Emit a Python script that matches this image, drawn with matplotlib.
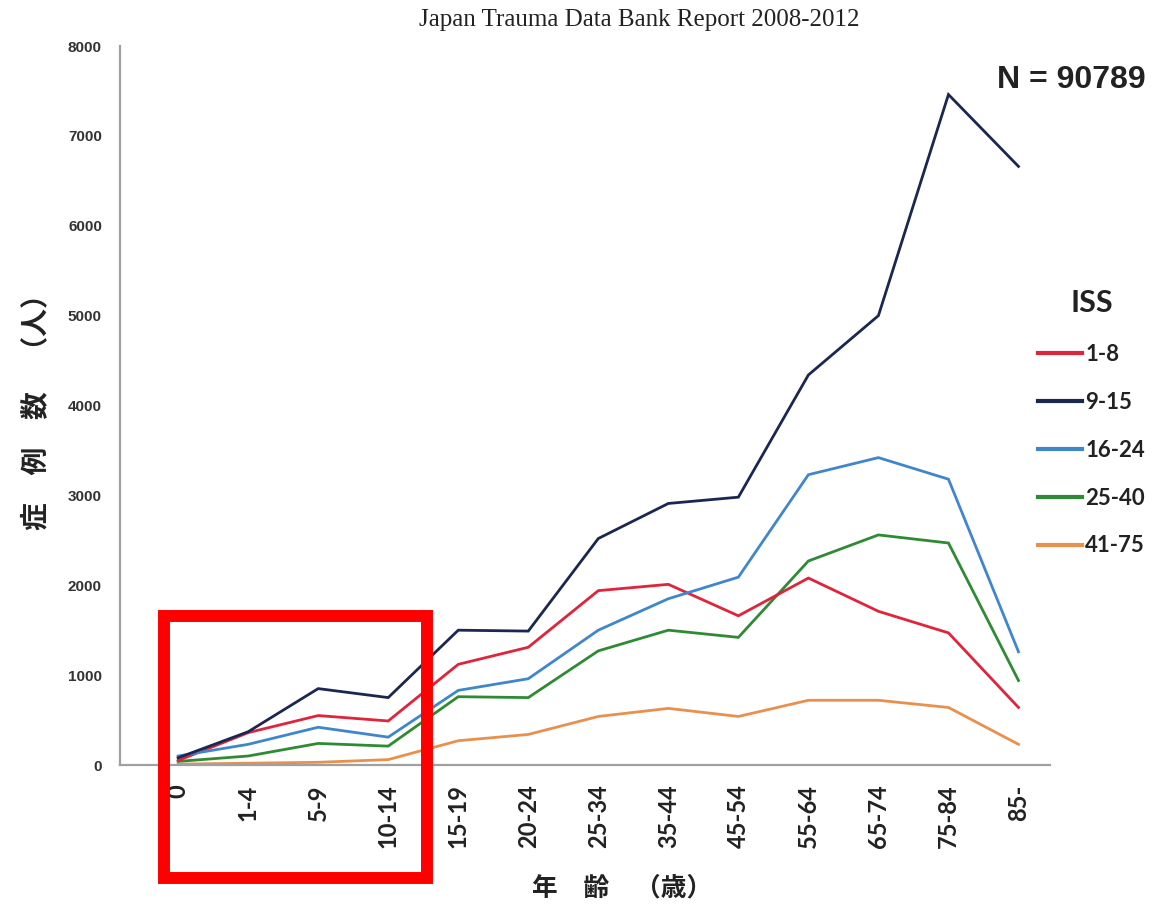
import matplotlib
matplotlib.use("Agg")
import matplotlib.pyplot as plt
from matplotlib.patches import Rectangle

plt.rcParams['font.family'] = ['Lato', 'Noto Sans CJK JP', 'DejaVu Sans']

ages = ["0", "1-4", "5-9", "10-14", "15-19", "20-24", "25-34", "35-44",
        "45-54", "55-64", "65-74", "75-84", "85-"]
iss_1_8 = [50, 360, 550, 490, 1120, 1310, 1940, 2010, 1660, 2080, 1710, 1470, 640]
iss_9_15 = [80, 370, 850, 750, 1500, 1490, 2520, 2910, 2980, 4340, 5000, 7460, 6660]
iss_16_24 = [100, 230, 420, 310, 830, 960, 1500, 1850, 2090, 3230, 3420, 3180, 1260]
iss_25_40 = [40, 100, 240, 210, 760, 750, 1270, 1500, 1420, 2270, 2560, 2470, 940]
iss_41_75 = [10, 20, 30, 60, 270, 340, 540, 630, 540, 720, 720, 640, 230]
series_labels = ["1-8", "9-15", "16-24", "25-40", "41-75"]
y_ticks = [0, 1000, 2000, 3000, 4000, 5000, 6000, 7000, 8000]

colors = ["#E0243C", "#1B2750", "#3F86CC", "#2E8B34", "#E8904E"]
series = [iss_1_8, iss_9_15, iss_16_24, iss_25_40, iss_41_75]
zorders = [4, 6, 5, 3, 2]

W, H = 1158, 913
fig = plt.figure(figsize=(W / 100, H / 100), dpi=100)
ax = fig.add_axes([120 / W, 1 - 765 / H, (1050 - 120) / W, (765 - 46) / H])

x = list(range(len(ages)))
handles = []
for vals, c, lab, z in zip(series, colors, series_labels, zorders):
    h, = ax.plot(x, vals, color=c, lw=2.0, label=lab, zorder=z,
                 solid_joinstyle='miter')
    handles.append(h)

ax.set_xlim(-0.83, 12.45)
ax.set_ylim(0, 8000)
ax.set_xticks(x)
ax.set_xticklabels(ages, rotation=90, fontsize=17, fontweight='bold',
                   va='top', ha='center')
ax.set_yticks(y_ticks)
ax.set_yticklabels([str(v) for v in y_ticks], fontsize=11, fontweight='bold',
                   family=['Liberation Sans'])
ax.tick_params(axis='both', length=0)
ax.tick_params(axis='x', pad=14, colors='#222222')
ax.tick_params(axis='y', pad=13, colors='#333333')
for s in ['top', 'right']:
    ax.spines[s].set_visible(False)
for s in ['left', 'bottom']:
    ax.spines[s].set_color('#A0A0A0')
    ax.spines[s].set_linewidth(1.6)

fig.text(639 / W, 1 - 20 / H, "Japan Trauma Data Bank Report 2008-2012",
         ha='center', va='center', fontsize=18, family=['Liberation Serif'],
         color='#222222')
fig.text(1071 / W, 1 - 80 / H, "N = 90789", ha='center', va='center',
         fontsize=23, fontweight='bold', family=['Liberation Sans'],
         color='#222222')

fig.text(36 / W, 1 - 405 / H, "症　例　数　（人）", rotation=90, ha='center',
         va='center', fontsize=20, fontweight='bold',
         family=['Noto Sans CJK JP'], color='#222222')
fig.text(622 / W, 1 - 888 / H, "年　齢　（歳）", ha='center', va='center',
         fontsize=18.5, fontweight='bold', family=['Noto Sans CJK JP'],
         color='#222222')

leg = fig.legend(handles=handles, labels=series_labels, title="ISS",
                 loc='upper left', bbox_to_anchor=(1018 / W, 1 - 269 / H),
                 frameon=False, handlelength=2.0, handletextpad=0.12,
                 labelspacing=1.21, prop={'size': 16, 'weight': 'bold'})
leg.get_title().set_fontsize(22)
leg.get_title().set_fontweight('bold')
leg.get_title().set_color('#222222')
for t in leg.get_texts():
    t.set_color('#222222')
for l in leg.get_lines():
    l.set_linewidth(3)

rect = Rectangle((164 / W, 1 - 878 / H), (427 - 164) / W, (878 - 616) / H,
                 transform=fig.transFigure, fill=False, edgecolor='#FF0000',
                 linewidth=8.6, joinstyle='miter', clip_on=False, zorder=10)
fig.patches.append(rect)

fig.savefig("out.png", dpi=100)
